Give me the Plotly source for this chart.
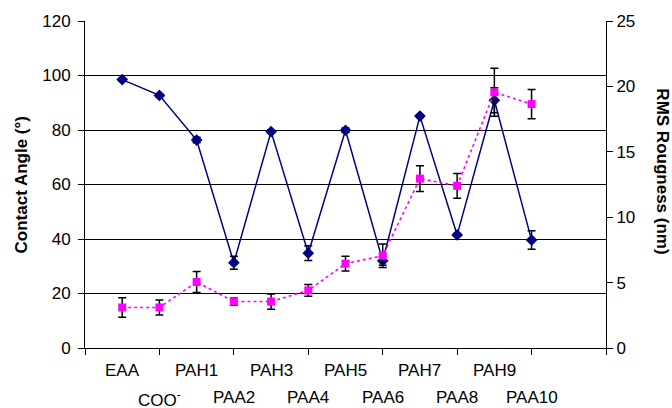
import plotly.graph_objects as go

categories = ["EAA", "COO<sup>-</sup>", "PAH1", "PAA2", "PAH3", "PAA4",
              "PAH5", "PAA6", "PAH7", "PAA8", "PAH9", "PAA10"]
positions = [1, 2, 3, 4, 5, 6, 7, 8, 9, 10, 11, 12]

contact_angle = [98.5, 92.7, 76.3, 31.3, 79.4, 34.8, 79.9, 32.0, 85.1, 41.5, 90.9, 39.6]
contact_err = [0.6, 0.6, 1.0, 2.4, 0.6, 2.7, 0.8, 1.6, 0.5, 0.5, 4.6, 3.4]

rms = [3.1, 3.1, 5.05, 3.55, 3.55, 4.4, 6.45, 7.05, 12.95, 12.4, 19.55, 18.65]
rms_err = [0.75, 0.57, 0.8, 0.28, 0.58, 0.45, 0.57, 0.9, 0.98, 0.95, 1.83, 1.12]

left_ticks = [0, 20, 40, 60, 80, 100, 120]
right_ticks = [0, 5, 10, 15, 20, 25]
x_tick_marks = [0, 2, 4, 6, 8, 10, 12, 14]

FONT = "Liberation Sans, Arial, sans-serif"
FS = 17

fig = go.Figure()

fig.add_trace(go.Scatter(
    x=positions, y=contact_angle, mode="lines+markers",
    line=dict(color="#000080", width=1.5),
    marker=dict(symbol="diamond", size=9, color="#000080"),
    error_y=dict(type="data", array=contact_err, color="black", thickness=1.5, width=4),
    showlegend=False, yaxis="y", cliponaxis=False,
))

fig.add_trace(go.Scatter(
    x=positions, y=rms, mode="lines+markers",
    line=dict(color="#FF00FF", width=1.6, dash="dot"),
    marker=dict(symbol="square", size=8, color="#FF00FF"),
    error_y=dict(type="data", array=rms_err, color="black", thickness=1.5, width=4),
    showlegend=False, yaxis="y2", cliponaxis=False,
))

annotations = []
for i, (p, c) in enumerate(zip(positions, categories)):
    annotations.append(dict(
        x=p, y=0, xref="x", yref="paper",
        yshift=-11 if i % 2 == 0 else -38,
        text=c, showarrow=False, yanchor="top", xanchor="center",
        font=dict(family=FONT, size=FS, color="black"),
    ))

annotations.append(dict(
    x=-0.121, y=0.5, xref="paper", yref="paper", xanchor="center", yanchor="middle",
    text="<b>Contact Angle (°)</b>", textangle=-90, showarrow=False,
    font=dict(family=FONT, size=FS, color="black"),
))
annotations.append(dict(
    x=1.1095, y=0.54, xref="paper", yref="paper", xanchor="center", yanchor="middle",
    text="<b>RMS Rougness (nm)</b>", textangle=90, showarrow=False,
    font=dict(family=FONT, size=FS, color="black"),
))

fig.update_layout(
    width=672, height=408,
    margin=dict(l=85, r=66, t=21, b=60),
    paper_bgcolor="white", plot_bgcolor="white",
    font=dict(family=FONT, size=FS, color="black"),
    xaxis=dict(
        range=[0, 14], tickvals=x_tick_marks, showticklabels=False,
        ticks="outside", ticklen=6, tickcolor="black", tickwidth=1,
        showline=True, linecolor="black", linewidth=1,
        showgrid=False, zeroline=False,
    ),
    yaxis=dict(
        range=[0, 120], tickvals=left_ticks,
        ticks="outside", ticklen=6, tickcolor="black", tickwidth=1,
        showline=True, linecolor="black", linewidth=1,
        showgrid=True, gridcolor="black", gridwidth=1, zeroline=False,
        tickfont=dict(family=FONT, size=FS, color="black"),
        ticklabelstandoff=4,
    ),
    yaxis2=dict(
        range=[0, 25], tickvals=right_ticks, overlaying="y", side="right",
        ticks="outside", ticklen=6, tickcolor="black", tickwidth=1,
        showline=True, linecolor="black", linewidth=1,
        showgrid=False, zeroline=False,
        tickfont=dict(family=FONT, size=FS, color="black"),
    ),
    annotations=annotations,
)

fig.write_html("out.html", config={"displayModeBar": False},
               post_script="document.body.style.margin='0';document.body.style.padding='0';")
